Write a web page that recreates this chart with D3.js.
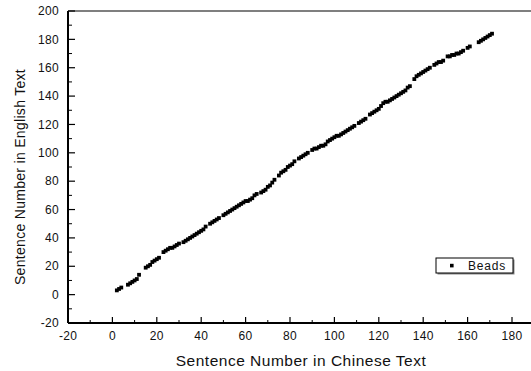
<!DOCTYPE html>
<html>
<head>
<meta charset="utf-8">
<script src="https://cdn.jsdelivr.net/npm/d3@7"></script>
<style>
  body { margin: 0; background: #fff; }
  text { font-family: Arial, "Liberation Sans", sans-serif; fill: #111; }
</style>
</head>
<body>
<div id="chart"></div>
<script>
// Sentence alignment: Chinese sentence number vs English sentence number
const chineseIdx = [
  2, 3, 4, 7, 8, 9, 10, 11, 12, 15, 16, 17, 18, 19, 20, 21,
  23, 24, 25, 26, 27, 28, 29, 30, 32, 33, 34, 35, 36, 37, 38, 39, 40,
  41, 42, 44, 45, 46, 47, 48, 50, 51, 52, 53, 54, 55, 56, 57, 58, 59,
  60, 61, 62, 63, 64, 65, 67, 68, 69, 70, 71, 72, 73,
  75, 76, 77, 78, 79, 80, 81, 82, 84, 85, 86, 87, 88,
  90, 91, 92, 93, 94, 95, 96, 97, 98, 99, 100, 101, 102, 103, 104, 105,
  106, 107, 108, 109, 111, 112, 113, 114, 116, 117, 118, 119, 120, 121, 122, 123,
  124, 125, 126, 127, 128, 129, 130, 131, 132, 133, 134,
  136, 137, 138, 139, 140, 141, 142, 143, 145, 146, 147, 148, 149,
  151, 152, 153, 154, 155, 156, 157, 158, 160, 161,
  165, 166, 167, 168, 169, 170, 171
];
const englishIdx = [
  3, 4, 5, 7, 8, 9, 10, 11, 14, 19, 20, 21, 23, 24, 25, 26,
  30, 31, 32, 33, 33, 34, 35, 36, 37, 38, 39, 40, 41, 42, 43, 44, 45,
  46, 48, 50, 51, 52, 53, 54, 56, 57, 58, 59, 60, 61, 62, 63, 64, 65,
  66, 66, 67, 68, 70, 71, 72, 73, 74, 76, 77, 79, 81,
  84, 86, 87, 88, 90, 91, 92, 94, 96, 97, 98, 99, 100,
  102, 103, 103, 104, 105, 105, 106, 108, 109, 110, 111, 112, 112, 113, 114, 115,
  116, 117, 118, 119, 121, 122, 123, 124, 127, 128, 129, 130, 131, 133, 135, 136,
  136, 137, 138, 139, 140, 141, 142, 143, 144, 146, 147,
  152, 154, 155, 156, 157, 158, 159, 160, 162, 163, 164, 164, 165,
  168, 168, 169, 169, 170, 170, 171, 172, 174, 175,
  178, 179, 180, 181, 182, 183, 184
];
const xTicks = [-20, 0, 20, 40, 60, 80, 100, 120, 140, 160, 180];
const yTicks = [-20, 0, 20, 40, 60, 80, 100, 120, 140, 160, 180, 200];
const seriesName = "Beads";

const W = 531, H = 371;
const margin = {top: 11, left: 68, bottom: 48};

const svg = d3.select("#chart").append("svg")
  .attr("width", W).attr("height", H);

const x = d3.scaleLinear().domain([-20, 190]).range([margin.left, margin.left + 210 * 2.22]);
const y = d3.scaleLinear().domain([-20, 200]).range([H - margin.bottom, margin.top]);

const data = chineseIdx.map((c, i) => [c, englishIdx[i]]);

// top frame line
svg.append("line")
  .attr("x1", margin.left).attr("x2", W)
  .attr("y1", y(200)).attr("y2", y(200))
  .attr("stroke", "#555").attr("stroke-width", 1.5);

// x axis (ticks inward)
const xAxis = svg.append("g").attr("transform", `translate(0,${y(-20)})`);
xAxis.append("line").attr("x1", margin.left).attr("x2", W)
  .attr("stroke", "#000").attr("stroke-width", 2);
xAxis.selectAll(".minor").data(d3.range(-10, 190, 20)).join("line")
  .attr("x1", d => x(d)).attr("x2", d => x(d)).attr("y1", 0).attr("y2", -3)
  .attr("stroke", "#000").attr("stroke-width", 1);
xAxis.selectAll(".major").data(xTicks).join("line")
  .attr("x1", d => x(d)).attr("x2", d => x(d)).attr("y1", 0).attr("y2", -6)
  .attr("stroke", "#000").attr("stroke-width", 1.2);
xAxis.selectAll("text").data(xTicks).join("text")
  .attr("x", d => x(d)).attr("y", 17)
  .attr("text-anchor", "middle").attr("font-size", 12)
  .attr("letter-spacing", 0.3)
  .text(d => d);

// y axis (ticks inward)
const yAxis = svg.append("g").attr("transform", `translate(${margin.left},0)`);
yAxis.append("line").attr("y1", y(-20)).attr("y2", y(200))
  .attr("stroke", "#000").attr("stroke-width", 2);
yAxis.selectAll(".minor").data(d3.range(-10, 200, 20)).join("line")
  .attr("y1", d => y(d)).attr("y2", d => y(d)).attr("x1", 0).attr("x2", 4)
  .attr("stroke", "#000").attr("stroke-width", 1);
yAxis.selectAll(".major").data(yTicks).join("line")
  .attr("y1", d => y(d)).attr("y2", d => y(d)).attr("x1", 0).attr("x2", 7)
  .attr("stroke", "#000").attr("stroke-width", 1.2);
yAxis.selectAll("text").data(yTicks).join("text")
  .attr("x", -9).attr("y", d => y(d)).attr("dy", "0.35em")
  .attr("text-anchor", "end").attr("font-size", 12)
  .attr("letter-spacing", 0.3)
  .text(d => d);

// axis titles
svg.append("text")
  .attr("x", 301).attr("y", 366)
  .attr("text-anchor", "middle").attr("font-size", 15.5)
  .attr("letter-spacing", 0.5)
  .text("Sentence Number in Chinese Text");
svg.append("text")
  .attr("transform", "translate(25,177) rotate(-90)")
  .attr("text-anchor", "middle").attr("font-size", 14)
  .attr("letter-spacing", 0.3)
  .text("Sentence Number in English Text");

// points
const sz = 3.8;
svg.append("g").selectAll("rect").data(data).join("rect")
  .attr("x", d => x(d[0]) - sz / 2)
  .attr("y", d => y(d[1]) - sz / 2)
  .attr("width", sz).attr("height", sz)
  .attr("fill", "#000");

// legend
const lg = svg.append("g").attr("transform", "translate(436,258)");
lg.append("rect").attr("x", 1.5).attr("y", 1.5).attr("width", 77).attr("height", 15)
  .attr("fill", "#888");
lg.append("rect").attr("x", 0).attr("y", 0).attr("width", 77).attr("height", 15)
  .attr("fill", "#fff").attr("stroke", "#000").attr("stroke-width", 1);
lg.append("rect").attr("x", 14).attr("y", 5.8).attr("width", 3.6).attr("height", 3.6)
  .attr("fill", "#000");
lg.append("text").attr("x", 32).attr("y", 12).attr("font-size", 12)
  .attr("letter-spacing", 0.8).text(seriesName);
</script>
</body>
</html>
